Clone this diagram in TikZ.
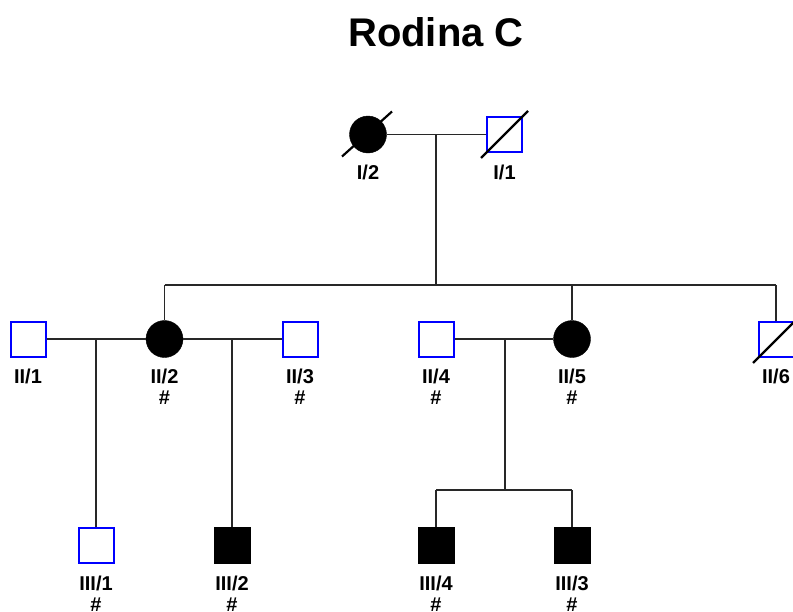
\documentclass[tikz,border=0pt]{standalone}
\usepackage{fontspec}
\setmainfont{Liberation Sans}
\usetikzlibrary{calc}
\definecolor{maleblue}{RGB}{0,0,255}
\definecolor{linegray}{RGB}{40,40,40}
\tikzset{
  male/.style={draw=maleblue, line width=2pt, fill=white, rectangle, minimum size=35pt, inner sep=0pt},
  affmale/.style={draw=black, line width=1pt, fill=black, rectangle, minimum size=36pt, inner sep=0pt},
  afffemale/.style={draw=black, fill=black, circle, minimum size=37pt, inner sep=0pt},
  lbl/.style={font=\bfseries\fontsize{20}{21}\selectfont, align=center, anchor=north, inner sep=0pt},
  link/.style={draw=linegray, line width=1.1pt},
  slash/.style={draw=black, line width=2.2pt},
}
\begin{document}
\begin{tikzpicture}[x=1pt, y=-1pt]
  \useasboundingbox[fill=white] (0,0) rectangle (793,611);

  % title
  \node[font=\bfseries\fontsize{40}{44}\selectfont] (title) at (436,32) {Rodina C};

  % generation I
  \node[afffemale] (I2) at (368,134.5) {};
  \node[male] (I1) at (504.5,134.5) {};
  \node[lbl] (lI2) at (368,165) {I/2};
  \node[lbl] (lI1) at (504.5,165) {I/1};

  % generation II
  \node[male] (II1) at (28,339) {};
  \node[afffemale] (II2) at (164.5,339) {};
  \node[male] (II3) at (300,339) {};
  \node[male] (II4) at (436,339) {};
  \node[afffemale] (II5) at (572,339) {};
  \node[male] (II6) at (776,339) {};
  \node[lbl] (lII1) at (28,369) {II/1};
  \node[lbl] (lII2) at (164.5,369) {II/2\\\#};
  \node[lbl] (lII3) at (300,369) {II/3\\\#};
  \node[lbl] (lII4) at (436,369) {II/4\\\#};
  \node[lbl] (lII5) at (572,369) {II/5\\\#};
  \node[lbl] (lII6) at (776,369) {II/6};

  % generation III
  \node[male] (III1) at (96,545) {};
  \node[affmale] (III2) at (232,545) {};
  \node[affmale] (III4) at (436,545) {};
  \node[affmale] (III3) at (572,545) {};
  \node[lbl] (lIII1) at (96,576) {III/1\\\#};
  \node[lbl] (lIII2) at (232,576) {III/2\\\#};
  \node[lbl] (lIII4) at (436,576) {III/4\\\#};
  \node[lbl] (lIII3) at (572,576) {III/3\\\#};

  % mating and descent lines
  \coordinate (mI) at (436,134.5);
  \coordinate (sibIIL) at (164.5,285);
  \coordinate (sibIIR) at (776,285);
  \coordinate (sibIIm) at (436,285);
  \coordinate (mA) at (96,339);
  \coordinate (mB) at (232,339);
  \coordinate (mC) at (505,339);
  \coordinate (sibIIIL) at (436,490);
  \coordinate (sibIIIR) at (572,490);
  \coordinate (sibIIIm) at (505,490);

  \draw[link] (I2) -- (I1);
  \draw[link] (mI) -- (sibIIm);
  \draw[link] (sibIIL) -- (sibIIR);
  \draw[link] (II2) -- (II2 |- sibIIL);
  \draw[link] (II5) -- (II5 |- sibIIL);
  \draw[link] (II6) -- (II6 |- sibIIL);

  \draw[link] (II1) -- (II2);
  \draw[link] (II2) -- (II3);
  \draw[link] (II4) -- (II5);
  \draw[link] (mA) -- (III1);
  \draw[link] (mB) -- (III2);
  \draw[link] (mC) -- (sibIIIm);
  \draw[link] (sibIIIL) -- (sibIIIR);
  \draw[link] (III4) -- (III4 |- sibIIIL);
  \draw[link] (III3) -- (III3 |- sibIIIL);

  % deceased marks
  \draw[slash] ($(I2)+(-26,22)$) -- ($(I2)+(24,-23)$);
  \draw[slash] ($(I1)+(-23.5,23.5)$) -- ($(I1)+(23.5,-23.5)$);
  \draw[slash] ($(II6)+(-23,24)$) -- ($(II6)+(24,-23)$);
\end{tikzpicture}
\end{document}
